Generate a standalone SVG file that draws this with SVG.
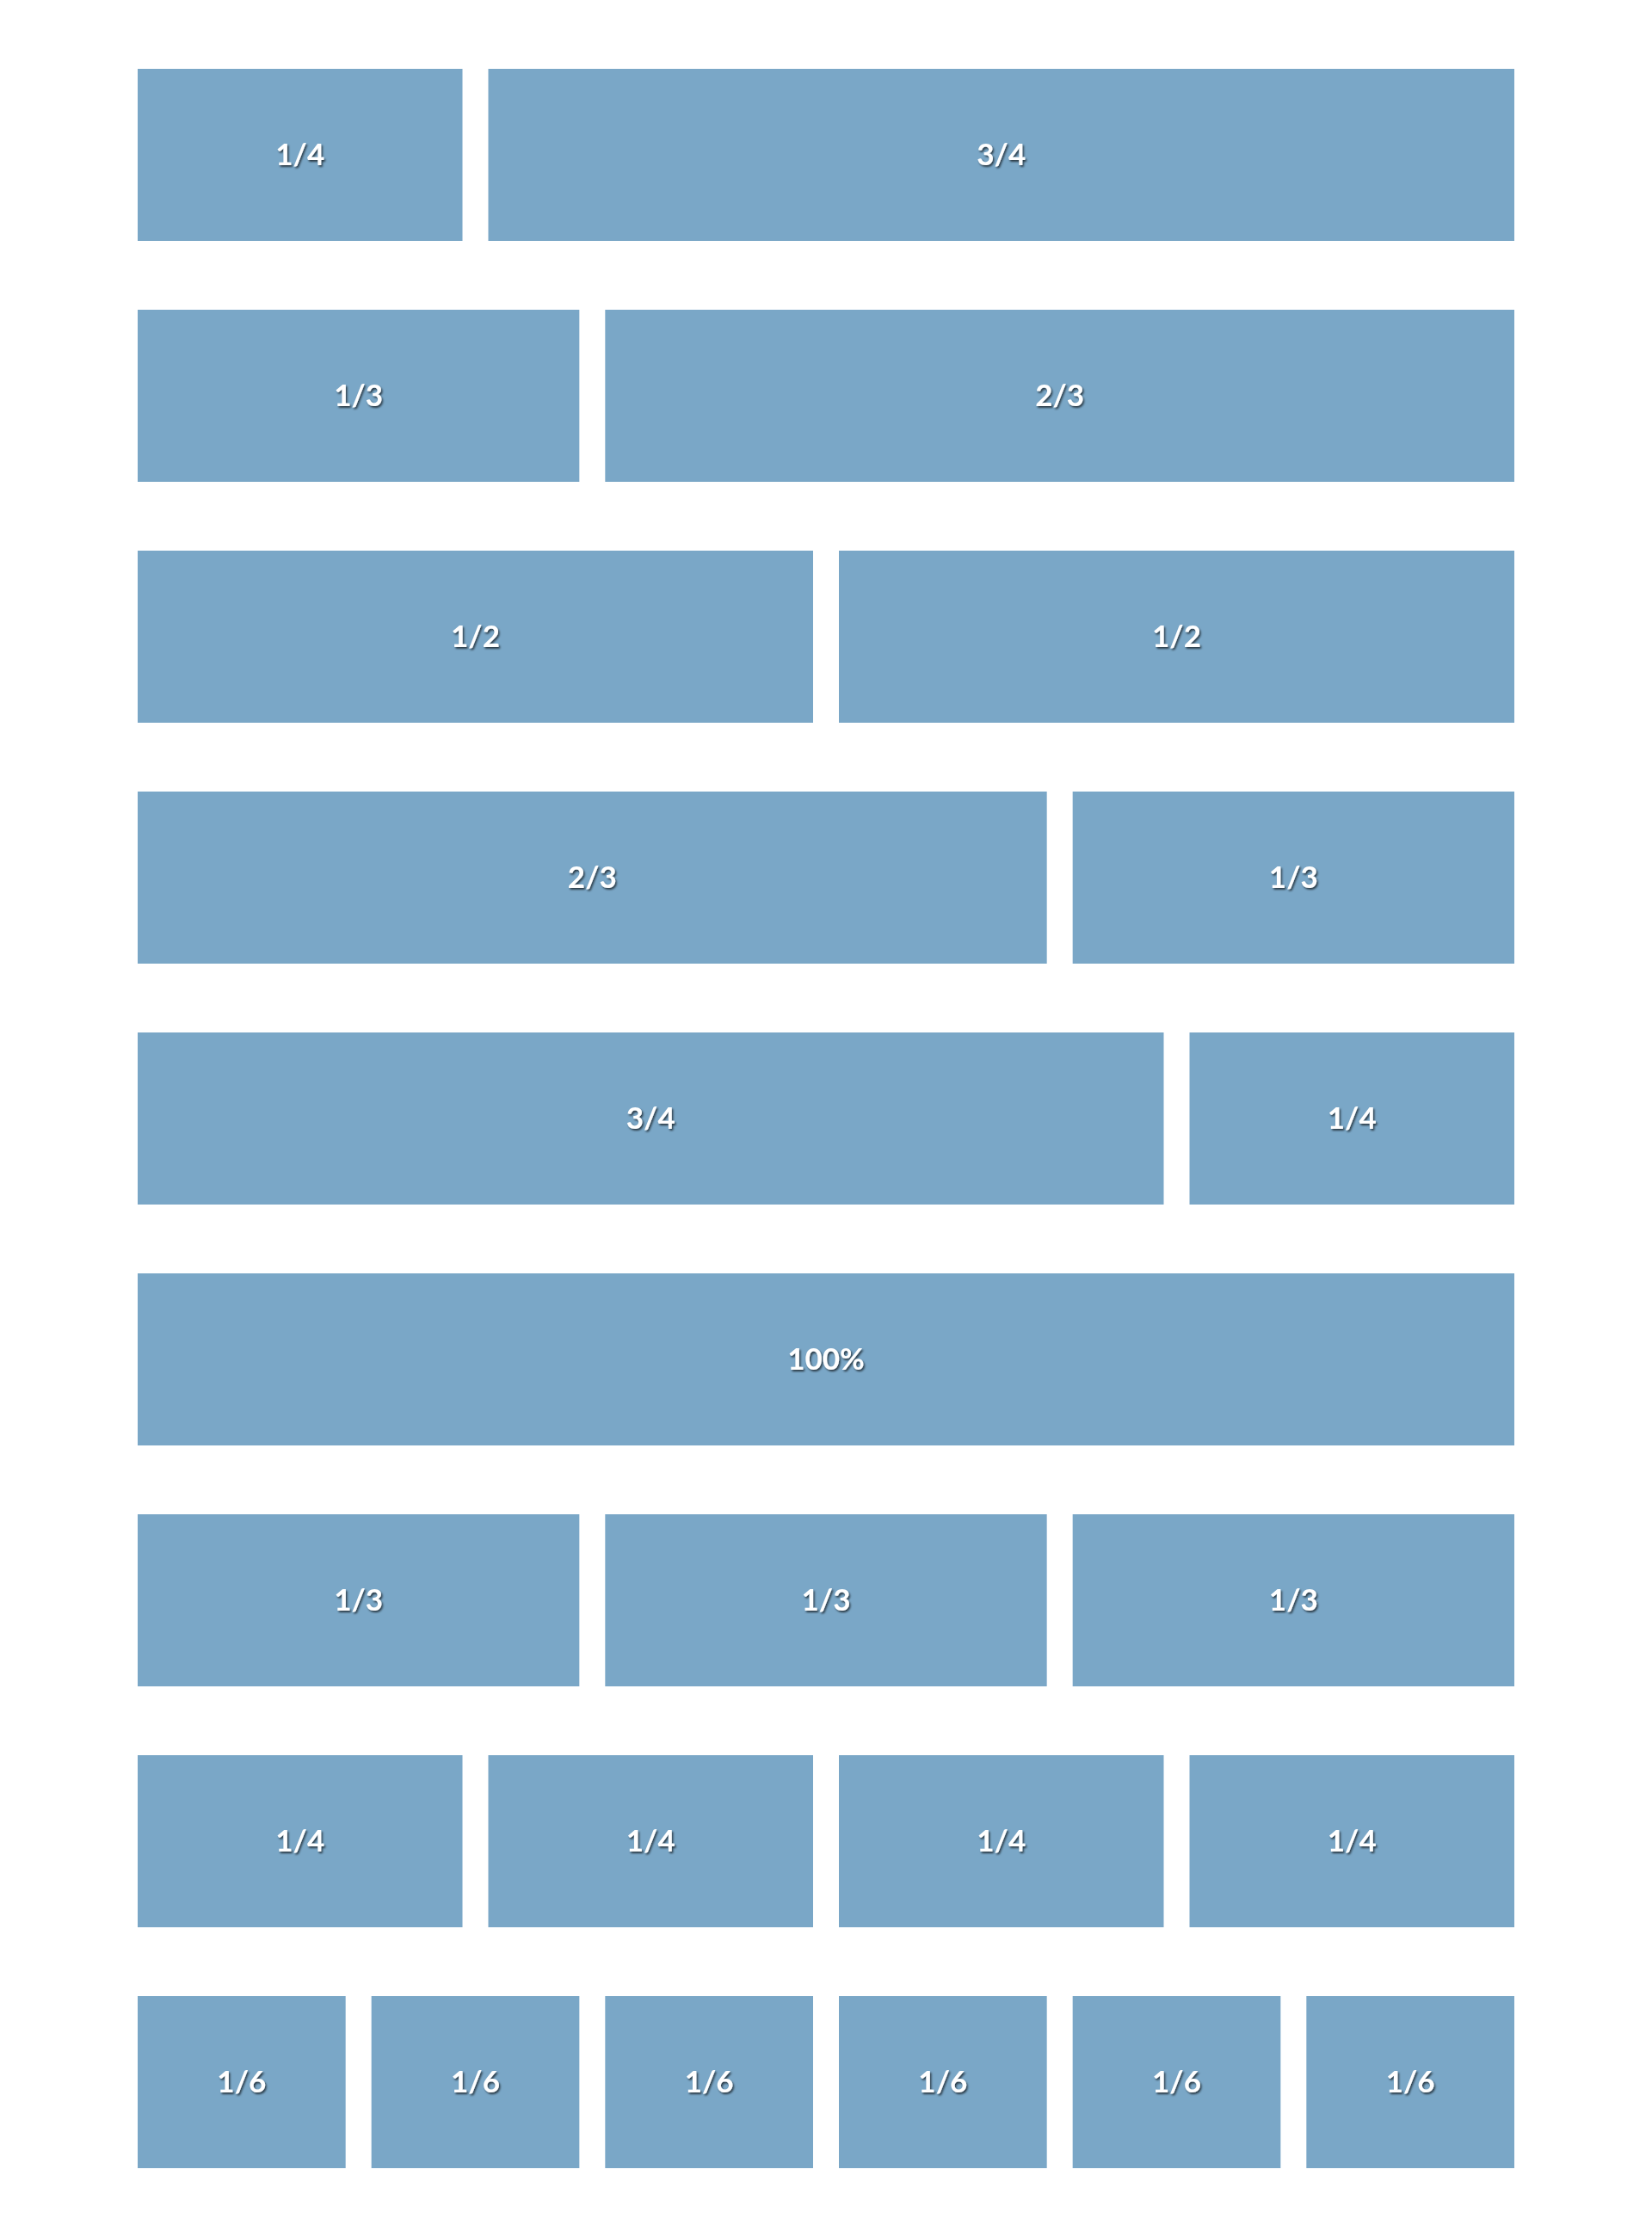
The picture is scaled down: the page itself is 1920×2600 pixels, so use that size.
<svg xmlns="http://www.w3.org/2000/svg" width="1920" height="2600" viewBox="0 0 1920 2600">
<defs>
<style>
.b{fill:#7aa7c7}
.t{fill:#ffffff;font-family:Lato,"Liberation Sans",sans-serif;font-weight:bold;font-size:35px;text-anchor:middle;filter:url(#sh)}
</style>
<filter id="sh" x="-20%" y="-20%" width="140%" height="160%">
<feDropShadow dx="1.5" dy="2" stdDeviation="1.2" flood-color="#000" flood-opacity="0.65"/>
</filter>
</defs>
<rect width="1920" height="2600" fill="#ffffff"/>
<g id="r1">
<g id="r1a"><rect class="b" x="160" y="80" width="377.5" height="200"/><text class="t" x="348.75" y="192">1/4</text></g>
<g id="r1b"><rect class="b" x="567.5" y="80" width="1192.5" height="200"/><text class="t" x="1163.75" y="192">3/4</text></g>
</g>
<g id="r2">
<g id="r2a"><rect class="b" x="160" y="360" width="513.33" height="200"/><text class="t" x="416.67" y="472">1/3</text></g>
<g id="r2b"><rect class="b" x="703.33" y="360" width="1056.67" height="200"/><text class="t" x="1231.67" y="472">2/3</text></g>
</g>
<g id="r3">
<g id="r3a"><rect class="b" x="160" y="640" width="785" height="200"/><text class="t" x="552.5" y="752">1/2</text></g>
<g id="r3b"><rect class="b" x="975" y="640" width="785" height="200"/><text class="t" x="1367.5" y="752">1/2</text></g>
</g>
<g id="r4">
<g id="r4a"><rect class="b" x="160" y="920" width="1056.67" height="200"/><text class="t" x="688.33" y="1032">2/3</text></g>
<g id="r4b"><rect class="b" x="1246.67" y="920" width="513.33" height="200"/><text class="t" x="1503.33" y="1032">1/3</text></g>
</g>
<g id="r5">
<g id="r5a"><rect class="b" x="160" y="1200" width="1192.5" height="200"/><text class="t" x="756.25" y="1312">3/4</text></g>
<g id="r5b"><rect class="b" x="1382.5" y="1200" width="377.5" height="200"/><text class="t" x="1571.25" y="1312">1/4</text></g>
</g>
<g id="r6">
<g id="r6a"><rect class="b" x="160" y="1480" width="1600" height="200"/><text class="t" x="960" y="1592">100%</text></g>
</g>
<g id="r7">
<g id="r7a"><rect class="b" x="160" y="1760" width="513.33" height="200"/><text class="t" x="416.67" y="1872">1/3</text></g>
<g id="r7b"><rect class="b" x="703.33" y="1760" width="513.33" height="200"/><text class="t" x="960" y="1872">1/3</text></g>
<g id="r7c"><rect class="b" x="1246.67" y="1760" width="513.33" height="200"/><text class="t" x="1503.33" y="1872">1/3</text></g>
</g>
<g id="r8">
<g id="r8a"><rect class="b" x="160" y="2040" width="377.5" height="200"/><text class="t" x="348.75" y="2152">1/4</text></g>
<g id="r8b"><rect class="b" x="567.5" y="2040" width="377.5" height="200"/><text class="t" x="756.25" y="2152">1/4</text></g>
<g id="r8c"><rect class="b" x="975" y="2040" width="377.5" height="200"/><text class="t" x="1163.75" y="2152">1/4</text></g>
<g id="r8d"><rect class="b" x="1382.5" y="2040" width="377.5" height="200"/><text class="t" x="1571.25" y="2152">1/4</text></g>
</g>
<g id="r9">
<g id="r9a"><rect class="b" x="160" y="2320" width="241.67" height="200"/><text class="t" x="280.83" y="2432">1/6</text></g>
<g id="r9b"><rect class="b" x="431.67" y="2320" width="241.67" height="200"/><text class="t" x="552.5" y="2432">1/6</text></g>
<g id="r9c"><rect class="b" x="703.33" y="2320" width="241.67" height="200"/><text class="t" x="824.17" y="2432">1/6</text></g>
<g id="r9d"><rect class="b" x="975" y="2320" width="241.67" height="200"/><text class="t" x="1095.83" y="2432">1/6</text></g>
<g id="r9e"><rect class="b" x="1246.67" y="2320" width="241.67" height="200"/><text class="t" x="1367.5" y="2432">1/6</text></g>
<g id="r9f"><rect class="b" x="1518.33" y="2320" width="241.67" height="200"/><text class="t" x="1639.17" y="2432">1/6</text></g>
</g>
<g id="connectors"/>
</svg>
